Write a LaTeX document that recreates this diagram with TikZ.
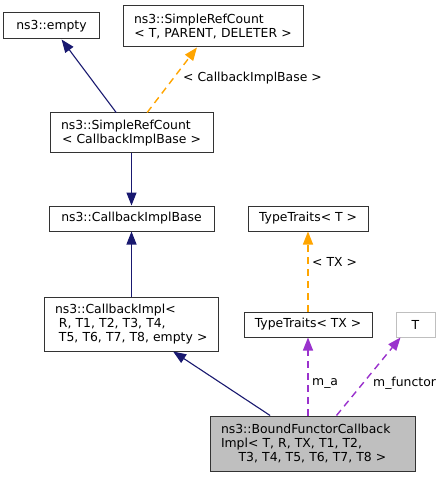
\documentclass[tikz,border=0pt]{standalone}
\usepackage{fontspec}
\setmainfont{DejaVu Sans}
\usetikzlibrary{arrows.meta,calc}
\definecolor{navy}{HTML}{191970}
\definecolor{orng}{HTML}{FFA500}
\definecolor{purp}{HTML}{9A32CD}
\definecolor{boxgray}{HTML}{BFBFBF}
\begin{document}
\begin{tikzpicture}[x=1bp,y=-1bp,
  font=\fontsize{12.4bp}{14.3bp}\selectfont,
  cls/.style={draw=black!80,line width=1bp,inner sep=0pt,fill=white},
  ml/.style={align=left},
  inh/.style={navy,line width=1.1bp,-{Triangle[length=13bp,width=10bp]}},
  tmpl/.style={orng,line width=1.4bp,dash pattern=on 7bp off 5bp,-{Triangle[length=13bp,width=10bp]}},
  usage/.style={purp,line width=1.4bp,dash pattern=on 7bp off 5bp,-{Triangle[length=13bp,width=10bp]}},
  lbl/.style={anchor=west,inner sep=0pt}]
\useasboundingbox[fill=white] (0,0) rectangle (444,477);
% nodes
\node[cls,minimum width=95bp,minimum height=26bp] (empty) at (51.5,26) {ns3::empty};
\node[cls,minimum width=180bp,minimum height=41bp,text width=158bp,ml] (srctpd) at (213,26.5)
  {ns3::SimpleRefCount\\\makebox[\hsize][c]{< T, PARENT, DELETER >}};
\node[cls,minimum width=163bp,minimum height=40bp,text width=141bp,ml] (srccib) at (131.5,133)
  {ns3::SimpleRefCount\\\makebox[\hsize][c]{< CallbackImplBase >}};
\node[cls,minimum width=165bp,minimum height=25bp] (cib) at (131.5,218.5) {ns3::CallbackImplBase};
\node[cls,minimum width=120bp,minimum height=25bp] (ttT) at (308,218.5) {TypeTraits< T >};
\node[cls,minimum width=174bp,minimum height=54bp,text width=153bp,ml] (ci) at (131.5,324)
  {ns3::CallbackImpl<\\\hspace*{0.32em}R, T1, T2, T3, T4,\\\hspace*{0.32em}T5, T6, T7, T8, empty >};
\node[cls,minimum width=128bp,minimum height=25bp] (ttx) at (308,324.5) {TypeTraits< TX >};
\node[cls,draw=boxgray,minimum width=39bp,minimum height=25bp] (t) at (415.5,324.5) {T};
\node[cls,fill=boxgray,minimum width=205bp,minimum height=55bp,text width=183bp,ml] (bf) at (312.5,443.5)
  {ns3::BoundFunctorCallback\\Impl< T, R, TX, T1, T2,\\\makebox[\hsize][c]{T3, T4, T5, T6, T7, T8 >}};
% edges
\draw[inh] (srccib) -- (empty);
\draw[tmpl] (srccib) -- (srctpd);
\draw[inh] (srccib) -- (cib);
\draw[inh] (ci) -- (cib);
\draw[tmpl] (ttx) -- (ttT);
\draw[inh] (bf) -- (ci);
\draw[usage] (bf.north -| ttx) -- (ttx);
\coordinate (bfm) at ($(bf.north west)+(127,0)$);
\coordinate (tin) at ($(t.south)+(-15,0)$);
\draw[usage] (bfm) -- (tin);
% edge labels
\node[lbl] (l1) at (183,78.5) {< CallbackImplBase >};
\node[lbl] (l2) at (312,262) {< TX >};
\node[lbl] (l3) at (312,383) {m\_a};
\node[lbl] (l4) at (373,383) {m\_functor};
\end{tikzpicture}
\end{document}
